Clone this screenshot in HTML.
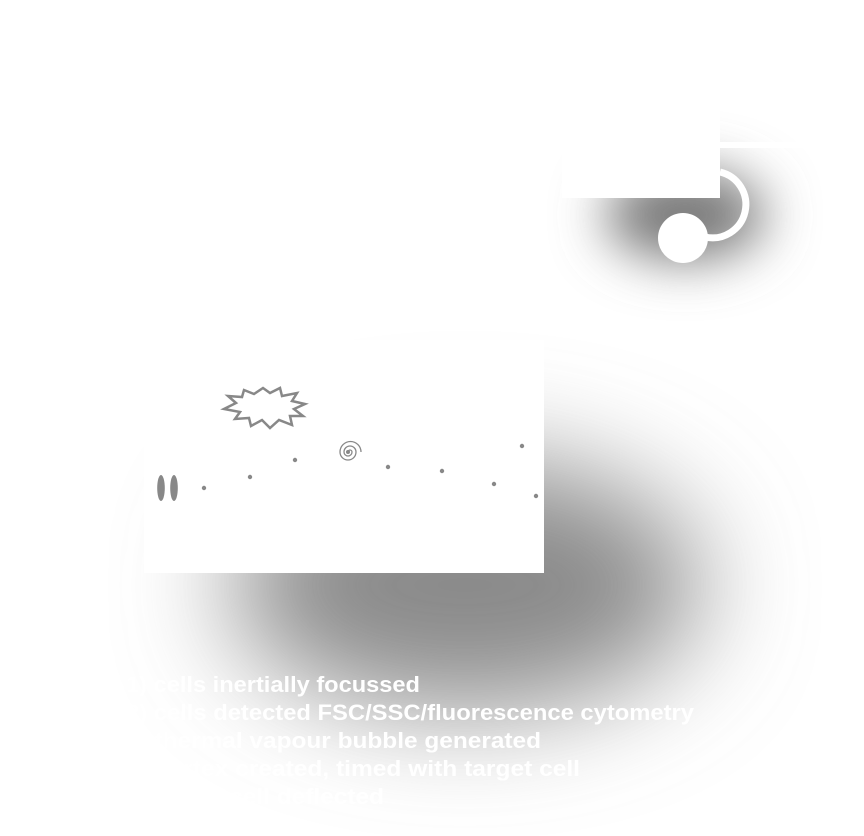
<!DOCTYPE html>
<html><head><style>
html,body{margin:0;padding:0;background:#fff;width:864px;height:836px;overflow:hidden}
svg{position:absolute;left:0;top:0}
.t{font-family:"Liberation Sans",sans-serif;font-weight:bold;font-size:22px;fill:#fff}
</style></head><body>
<svg width="864" height="836" viewBox="0 0 864 836">
<defs>
<filter id="b1" filterUnits="userSpaceOnUse" x="-200" y="-200" width="1300" height="1300"><feGaussianBlur stdDeviation="55"/></filter>
<filter id="b2" filterUnits="userSpaceOnUse" x="-200" y="-200" width="1300" height="1300"><feGaussianBlur stdDeviation="26"/></filter>
</defs>
<ellipse cx="465" cy="585" rx="235" ry="125" fill="#8a8a8a" filter="url(#b1)"/>
<ellipse cx="685" cy="215" rx="80" ry="45" fill="#777" filter="url(#b2)"/>
<!-- top device -->
<rect x="562" y="105" width="158" height="93" fill="#fff"/>
<rect x="720" y="142" width="92" height="6" fill="#fff"/>
<path d="M 720 172 A 33 33 0 0 1 705 237" fill="none" stroke="#fff" stroke-width="7"/>
<circle cx="683" cy="238" r="25" fill="#fff"/>
<!-- main panel -->
<rect x="144" y="340" width="400" height="233" fill="#fff"/>
<polygon points="263,388 270,393 280,388 282,396 297,393 292,401 305,404 294,409 303,416 290,416 292,425 279,420 270,428 262,420 251,426 249,418 235,419 240,412 224,409 236,403 228,396 242,397 244,390 254,394" fill="none" stroke="#888" stroke-width="2.5"/>
<path d="M 348 452 m 0 0 a 2 2 0 0 1 4 0 a 4 4 0 0 1 -8 0 a 6 6 0 0 1 12 0 a 8 8 0 0 1 -16 0 a 10.5 10.5 0 0 1 21 0" fill="none" stroke="#888" stroke-width="1.3"/>
<circle cx="348" cy="452" r="2" fill="#888"/>
<ellipse cx="161" cy="488" rx="3.8" ry="13" fill="#888"/>
<ellipse cx="174" cy="488" rx="3.8" ry="13" fill="#888"/>
<g fill="#888">
<circle cx="204" cy="488" r="2.2"/><circle cx="250" cy="477" r="2.2"/><circle cx="295" cy="460" r="2.2"/>
<circle cx="388" cy="467" r="2.2"/><circle cx="442" cy="471" r="2.2"/><circle cx="522" cy="446" r="2.2"/>
<circle cx="494" cy="484" r="2.2"/><circle cx="536" cy="496" r="2.2"/>
</g>
<text class="t" x="126" y="692" textLength="294" lengthAdjust="spacingAndGlyphs">1) cells inertially focussed</text>
<text class="t" x="126" y="720" textLength="568" lengthAdjust="spacingAndGlyphs">2) cells detected FSC/SSC/fluorescence cytometry</text>
<text class="t" x="126" y="748" textLength="415" lengthAdjust="spacingAndGlyphs">3) thermal vapour bubble generated</text>
<text class="t" x="126" y="776" textLength="454" lengthAdjust="spacingAndGlyphs">4) vortex created, timed with target cell</text>
<text class="t" x="126" y="804" textLength="258" lengthAdjust="spacingAndGlyphs">5) target cell deflected</text>
</svg>
</body></html>
